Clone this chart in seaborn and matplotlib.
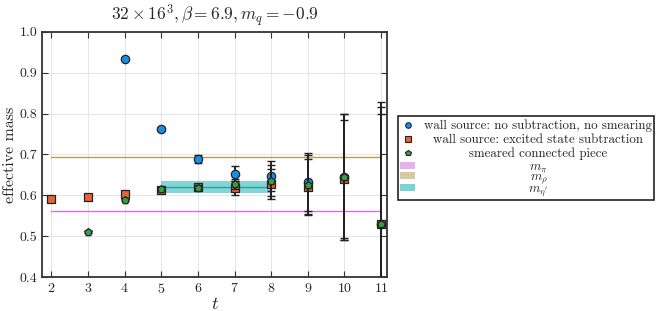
import matplotlib.pyplot as plt
import pandas as pd
import seaborn as sns
from matplotlib.lines import Line2D
from matplotlib.patches import Patch

# effective mass data
t_blue = [4, 5, 6, 7, 8, 9, 10, 11]
m_blue = [0.933, 0.762, 0.689, 0.653, 0.647, 0.632, 0.645, 0.530]
e_blue = [0.003, 0.004, 0.010, 0.019, 0.036, 0.071, 0.155, 0.298]

t_orange = [2, 3, 4, 5, 6, 7, 8, 9, 10, 11]
m_orange = [0.590, 0.595, 0.604, 0.612, 0.620, 0.618, 0.628, 0.620, 0.640, 0.530]
e_orange = [0.002, 0.003, 0.004, 0.005, 0.006, 0.017, 0.036, 0.069, 0.145, 0.270]

t_green = [3, 4, 5, 6, 7, 8, 9, 10, 11]
m_green = [0.511, 0.589, 0.616, 0.619, 0.628, 0.636, 0.626, 0.645, 0.530]
e_green = [0.002, 0.003, 0.004, 0.006, 0.012, 0.038, 0.072, 0.155, 0.286]

line_t = [2, 11]
m_pi = 0.562
m_rho = 0.693
eta_t = [5, 8]
eta_mid = 0.620
eta_lo = 0.605
eta_hi = 0.636

labels = ['wall source: no subtraction, no smearing',
          'wall source: excited state subtraction',
          'smeared connected piece',
          r'$m_\pi$', r'$m_\rho$', r"$m_{\eta'}$"]

c_blue, c_orange, c_green = '#1590ea', '#e8623a', '#30a040'
c_pi, c_rho, c_eta = '#cc77dd', '#b9a050', '#33bbbb'

sns.set_style('ticks')
plt.rcParams['font.family'] = 'serif'
plt.rcParams['font.serif'] = ['cmr10']
plt.rcParams['mathtext.fontset'] = 'cm'
plt.rcParams['axes.formatter.use_mathtext'] = True

fig = plt.figure(figsize=(6.65, 3.11), dpi=100)
ax = fig.add_axes([0.0636, 0.109, 0.518, 0.789])

ax.grid(True, color='#e6e6e6', lw=0.8)
ax.set_axisbelow(True)

sns.lineplot(x=line_t, y=[m_pi, m_pi], color=c_pi, lw=1.0, ax=ax, zorder=2)
sns.lineplot(x=line_t, y=[m_rho, m_rho], color=c_rho, lw=1.0, ax=ax, zorder=2)
ax.fill_between(eta_t, eta_lo, eta_hi, color=c_eta, alpha=0.6, lw=0, zorder=2)
sns.lineplot(x=eta_t, y=[eta_mid, eta_mid], color='#2aa0a0', lw=1.0, ax=ax, zorder=2)

series = [
    (t_blue, m_blue, e_blue, c_blue, 'o', 36),
    (t_orange, m_orange, e_orange, c_orange, 's', 36),
    (t_green, m_green, e_green, c_green, 'p', 32),
]
for i, (t, m, e, c, mk, s) in enumerate(series):
    ax.errorbar(t, m, yerr=e, fmt='none', ecolor='#222222', elinewidth=1.4,
                capsize=3, capthick=1.0, zorder=3 + i * 2)
    df = pd.DataFrame({'t': t, 'm': m})
    sns.scatterplot(data=df, x='t', y='m', marker=mk, color=c, s=s,
                    edgecolor='#222222', linewidth=0.9, ax=ax, zorder=4 + i * 2)

ax.set_xlim(1.75, 11.155)
ax.set_ylim(0.4, 1.0)
ax.set_xticks(range(2, 12))
ax.set_yticks([0.4, 0.5, 0.6, 0.7, 0.8, 0.9, 1.0])
ax.set_yticklabels(['0.4', '0.5', '0.6', '0.7', '0.8', '0.9', '1.0'])
ax.tick_params(direction='in', top=True, right=True, labelsize=10, length=4,
               color='#333333')
for sp in ax.spines.values():
    sp.set_linewidth(1.3)
    sp.set_color('#333333')

ax.set_xlabel(r'$t$', fontsize=13, labelpad=0)
ax.set_ylabel('effective mass', fontsize=11.5, labelpad=2)
ax.set_title(r'$32\times16^3, \beta = 6.9, m_q = -0.9$', fontsize=12.5, pad=8)

handles = [
    Line2D([], [], ls='', marker='o', mfc=c_blue, mec='#222222', ms=4, mew=0.8),
    Line2D([], [], ls='', marker='s', mfc=c_orange, mec='#222222', ms=4, mew=0.8),
    Line2D([], [], ls='', marker='p', mfc=c_green, mec='#222222', ms=4, mew=0.8),
    Patch(facecolor=c_pi, alpha=0.55, edgecolor='none'),
    Patch(facecolor=c_rho, alpha=0.55, edgecolor='none'),
    Patch(facecolor=c_eta, alpha=0.65, edgecolor='none'),
]
leg = fig.legend(handles, labels, loc='upper left',
                 bbox_to_anchor=(398 / 665, 1 - 115.7 / 311),
                 bbox_transform=fig.transFigure, borderaxespad=0,
                 fontsize=9.3, frameon=True, fancybox=False, framealpha=1,
                 edgecolor='#222222', handlelength=1.2, handleheight=0.45,
                 handletextpad=0.7, labelspacing=-0.28, borderpad=0.15)
leg.get_frame().set_linewidth(1.2)

# center the label texts inside the legend column and space the text rows
fig.canvas.draw()
renderer = fig.canvas.get_renderer()
dpicor = renderer.points_to_pixels(1.0)
widths = [txt.get_window_extent(renderer).width / dpicor
          for txt in leg.get_texts()]
wmax = max(widths)
rows = leg._legend_handle_box.get_children()[0].get_children()
for i, (row, w) in enumerate(zip(rows, widths)):
    row.sep = row.sep + (wmax - w) / 2
    if i < 3:
        hbox, tbox = row.get_children()
        bb = tbox.get_bbox(renderer)
        pad_top = 1.3
        pad_bot = 2.3 + (1.5 if i == 2 else 0.0)
        hbox.ydescent = -bb.y0 / dpicor + pad_bot
        hbox.height = bb.height / dpicor + pad_top + pad_bot

fig.savefig('out.png', dpi=100)
